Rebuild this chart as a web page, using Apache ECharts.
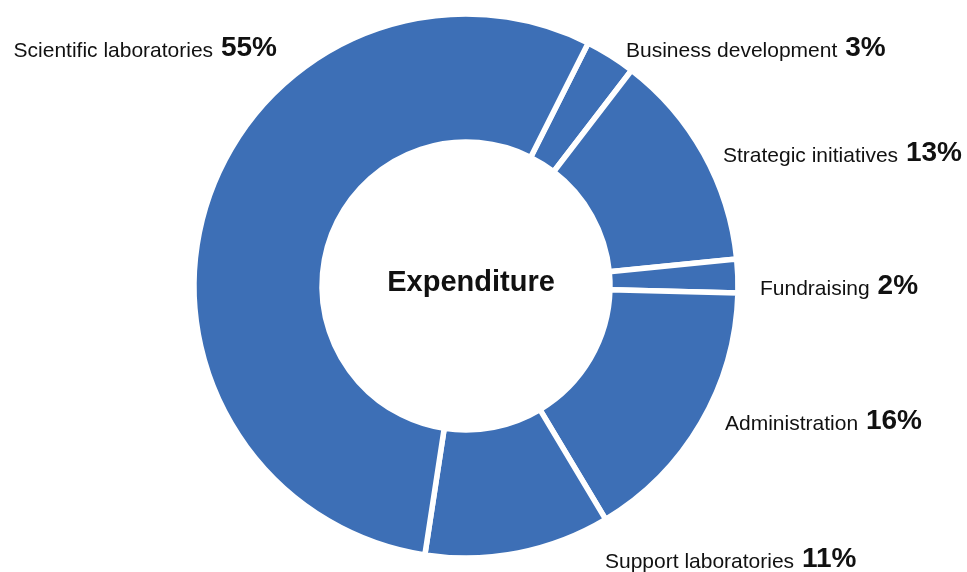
<!DOCTYPE html>
<html>
<head>
<meta charset="utf-8">
<script src="https://cdn.jsdelivr.net/npm/echarts@6/dist/echarts.min.js"></script>
<style>
html,body{margin:0;padding:0;background:#fff;}
#chart{width:967px;height:572px;}
</style>
</head>
<body>
<div id="chart"></div>
<script>
// Data (clockwise from the top-right)
var categories = ['Business development', 'Strategic initiatives', 'Fundraising', 'Administration', 'Support laboratories', 'Scientific laboratories'];
var values = [3, 13, 2, 16, 11, 55];
var centerTitle = 'Expenditure';

// Label anchor layout (pixel anchors for the outside labels)
var labelAnchors = [
  {x: 626, y: 47, align: 'left'},
  {x: 723, y: 152, align: 'left'},
  {x: 760, y: 285, align: 'left'},
  {x: 725, y: 420, align: 'left'},
  {x: 605, y: 558, align: 'left'},
  {x: 277, y: 47, align: 'right'}
];

var chart = echarts.init(document.getElementById('chart'), null, {renderer: 'canvas'});
var seriesData = categories.map(function (c, i) { return {name: c, value: values[i]}; });

chart.setOption({
  backgroundColor: '#ffffff',
  animation: false,
  graphic: [{
    type: 'text',
    x: 471,
    y: 283,
    style: {
      text: centerTitle,
      textAlign: 'center',
      textVerticalAlign: 'middle',
      font: 'bold 29px "Liberation Sans", Arial, sans-serif',
      fill: '#111111'
    }
  }],
  series: [{
    type: 'pie',
    center: [466, 286],
    radius: [144, 272],
    startAngle: 63.3,
    clockwise: true,
    avoidLabelOverlap: false,
    itemStyle: {color: '#3D6FB6', borderColor: '#ffffff', borderWidth: 5.5},
    emphasis: {disabled: true},
    labelLine: {show: false},
    label: {
      show: true,
      position: 'outside',
      formatter: function (p) { return '{n|' + p.name + ' }{p|' + p.value + '%}'; },
      rich: {
        n: {fontFamily: '"Liberation Sans", Arial, sans-serif', fontSize: 21, color: '#111111', verticalAlign: 'bottom', lineHeight: 30},
        p: {fontFamily: '"Liberation Sans", Arial, sans-serif', fontSize: 28, fontWeight: 'bold', color: '#111111', verticalAlign: 'bottom', lineHeight: 30, padding: [0, 0, 0, 2]}
      }
    },
    labelLayout: function (params) {
      var a = labelAnchors[params.dataIndex];
      return {x: a.x, y: a.y, align: a.align, verticalAlign: 'middle'};
    },
    data: seriesData
  }]
});
</script>
</body>
</html>
